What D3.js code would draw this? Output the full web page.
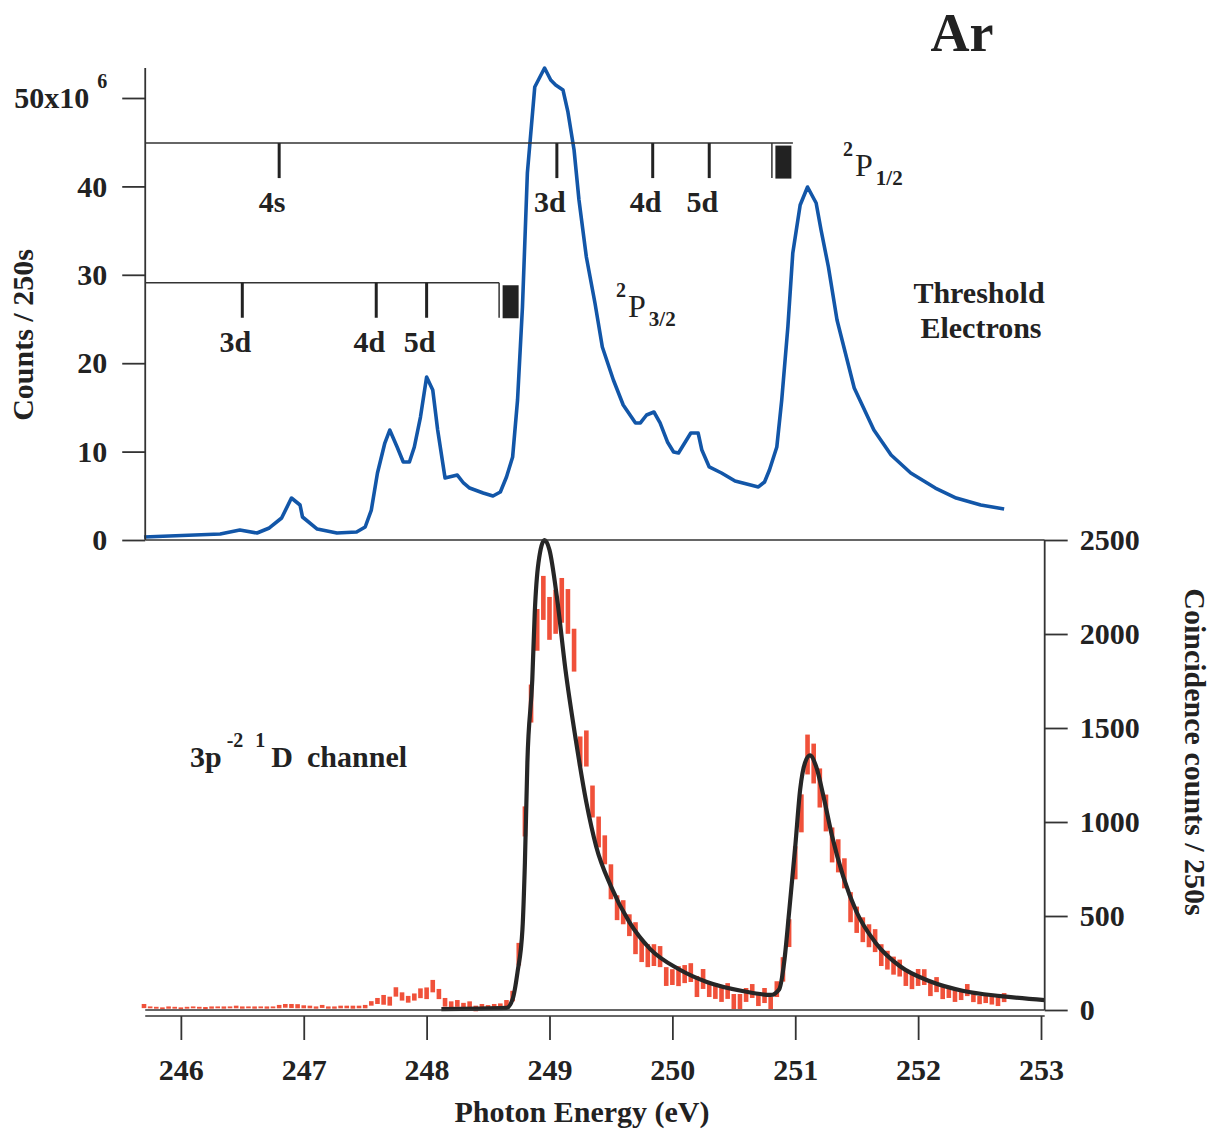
<!DOCTYPE html>
<html>
<head>
<meta charset="utf-8">
<script src="https://d3js.org/d3.v7.min.js"></script>
<style>
  body { margin:0; background:#fff; }
  svg text { font-family:"Liberation Serif","Times New Roman",serif; font-weight:bold; fill:#222; }
</style>
</head>
<body>
<svg id="chart" width="1220" height="1129"></svg>
<script>
// ── Threshold electron yield (blue), units of 10^6 counts / 250 s ───────────
const blueE = [245.70,246.32,246.48,246.62,246.72,246.82,246.90,246.97,246.99,247.11,247.27,247.43,247.50,247.55,247.60,247.66,247.70,247.76,247.81,247.86,247.90,247.95,248.00,248.05,248.09,248.15,248.25,248.30,248.35,248.46,248.54,248.60,248.65,248.70,248.74,248.78,248.82,248.88,248.96,249.01,249.05,249.11,249.15,249.20,249.24,249.30,249.37,249.43,249.52,249.60,249.70,249.74,249.79,249.85,249.90,249.96,250.01,250.05,250.15,250.21,250.24,250.30,250.40,250.51,250.70,250.75,250.79,250.85,250.89,250.94,250.98,251.04,251.10,251.17,251.21,251.27,251.34,251.48,251.64,251.78,251.94,252.14,252.31,252.51,252.70];
const blueCounts = [0.34,0.68,1.13,0.79,1.36,2.49,4.75,3.96,2.60,1.24,0.79,0.90,1.47,3.39,7.58,10.97,12.44,10.52,8.82,8.82,10.52,13.91,18.44,16.97,12.44,7.01,7.35,6.45,5.88,5.32,4.98,5.43,7.13,9.39,15.84,26.36,41.52,51.24,53.39,52.04,51.47,50.90,48.42,44.12,38.46,32.01,26.81,21.83,18.10,15.27,13.24,13.24,14.14,14.48,13.24,11.09,9.95,9.84,12.10,12.10,10.18,8.26,7.58,6.67,6.00,6.56,7.92,10.52,15.84,24.10,32.47,37.90,39.93,38.12,35.07,30.88,24.89,17.19,12.44,9.62,7.58,5.88,4.75,3.96,3.51];

// ── Coincidence counts (red error bars), bins of 0.05 eV from 245.70 eV ─────
const binStart = 245.70, binStep = 0.05;
const coincCounts = [21,14,12,9,13,12,9,12,14,12,10,13,14,13,14,16,13,14,13,14,13,14,18,22,21,20,17,16,13,19,13,13,16,16,15,16,18,35,48,54,47,96,72,57,69,89,89,127,85,41,30,35,26,30,8,16,14,16,23,35,74,297,1003,1630,2022,2192,2083,2118,2179,2120,1914,1375,1391,1109,947,852,682,544,520,451,382,316,289,292,284,178,175,180,191,199,125,165,109,101,80,101,45,45,80,101,58,77,37,111,216,409,783,1046,1359,1311,1181,1048,878,820,727,547,480,427,395,369,292,265,236,223,173,151,173,175,111,135,93,96,77,77,106,69,53,61,53,48,66];
const coincErr = [11,5,5,5,6,5,5,5,5,5,6,6,5,6,5,7,6,5,6,5,6,5,9,10,11,11,8,7,6,8,6,6,7,7,8,7,9,12,16,26,24,25,22,18,19,26,31,33,27,23,16,18,12,16,15,16,12,16,12,18,28,60,80,101,111,117,114,117,119,119,114,80,96,85,82,77,93,66,64,58,85,61,61,58,56,50,42,53,48,50,56,53,40,42,37,42,40,40,37,37,37,40,32,42,65,74,88,101,106,106,104,98,93,88,80,80,70,66,61,61,58,50,48,45,45,40,45,42,37,40,35,32,34,24,32,27,22,24,24,27,24];

// ── Fit curve (black) ────────────────────────────────────────────────────────
const fitE = [248.12,248.65,248.70,248.74,248.78,248.80,248.82,248.86,248.88,248.91,248.96,249.00,249.06,249.13,249.21,249.30,249.38,249.50,249.65,249.82,250.05,250.28,250.57,250.80,250.87,250.91,250.95,251.00,251.04,251.08,251.12,251.17,251.23,251.30,251.39,251.50,251.65,251.85,252.09,252.37,252.67,253.03];
const fitCounts = [5,11,58,202,430,786,1316,1757,2113,2378,2500,2447,2198,1810,1454,1104,870,658,467,324,218,149,101,80,111,255,520,870,1173,1316,1354,1295,1136,924,711,520,361,234,154,101,74,53];

// ── Rydberg series markers ──────────────────────────────────────────────────
const p12Labels = ["4s","3d","4d","5d"];
const p12Energies = [246.80,249.06,249.84,250.30];
const p12Limit = 250.81;
const p32Labels = ["3d","4d","5d"];
const p32Energies = [246.50,247.59,248.00];
const p32Limit = 248.59;

// ── Ticks ───────────────────────────────────────────────────────────────────
const xTicks = [246,247,248,249,250,251,252,253];
const topTicks = [0,10,20,30,40,50];
const botTicks = [0,500,1000,1500,2000,2500];

const svg = d3.select("#chart");
const AX = "#333";

const x    = d3.scaleLinear().domain([245.7, 253]).range([144, 1041]);
const yTop = d3.scaleLinear().domain([0, 50]).range([540, 98]);
const yBot = d3.scaleLinear().domain([0, 2500]).range([1010, 540]);
const xL = x(245.71), xR = x(253.03);

// red error bars
svg.append("g").selectAll("rect")
  .data(coincCounts)
  .join("rect")
  .attr("x", (d, i) => x(binStart + i * binStep) - 2.3)
  .attr("width", 4.6)
  .attr("y", (d, i) => yBot(d + coincErr[i]))
  .attr("height", (d, i) => yBot(d - coincErr[i]) - yBot(d + coincErr[i]))
  .attr("fill", "#f0513a");

// fit curve
svg.append("path")
  .datum(fitE.map((e, i) => [e, fitCounts[i]]))
  .attr("fill", "none").attr("stroke", "#262626").attr("stroke-width", 4.2)
  .attr("stroke-linejoin", "round")
  .attr("d", d3.line().x(d => x(d[0])).y(d => yBot(d[1])).curve(d3.curveMonotoneX));

// threshold electrons curve
svg.append("path")
  .datum(blueE.map((e, i) => [e, blueCounts[i]]))
  .attr("fill", "none").attr("stroke", "#1256a8").attr("stroke-width", 3.6)
  .attr("stroke-linejoin", "round")
  .attr("d", d3.line().x(d => x(d[0])).y(d => yTop(d[1])));

// frame lines
function hline(x1, x2, y, w) {
  svg.append("line").attr("x1", x1).attr("x2", x2).attr("y1", y).attr("y2", y)
    .attr("stroke", AX).attr("stroke-width", w || 1.6);
}
hline(xL, xR, yTop(0));
hline(xL, xR, yBot(0));
svg.append("line").attr("x1", xL).attr("x2", xL).attr("y1", yTop(0)).attr("y2", yTop(53.4))
  .attr("stroke", AX).attr("stroke-width", 1.8);
svg.append("line").attr("x1", xR).attr("x2", xR).attr("y1", yBot(0)).attr("y2", yBot(2500))
  .attr("stroke", AX).attr("stroke-width", 1.8);

function styleAxis(g) {
  g.select(".domain").remove();
  g.selectAll(".tick line").attr("stroke", AX).attr("stroke-width", 1.8);
  g.selectAll(".tick text").attr("font-size", 30).attr("fill", "#222");
}

// left axis
const gLeft = svg.append("g").attr("transform", `translate(${xL},0)`)
  .call(d3.axisLeft(yTop).tickValues(topTicks).tickSize(23).tickPadding(15).tickFormat(d3.format("d")))
  .call(styleAxis);
gLeft.selectAll(".tick text").filter(d => d === 50)
  .text("50x10")
  .append("tspan").attr("dx", 8).attr("dy", -20).attr("font-size", 20).text("6");

// right axis
svg.append("g").attr("transform", `translate(${xR},0)`)
  .call(d3.axisRight(yBot).tickValues(botTicks).tickSize(23).tickPadding(12).tickFormat(d3.format("d")))
  .call(styleAxis);

// bottom axis
svg.append("g").attr("transform", "translate(0,1016)")
  .call(d3.axisBottom(x).tickValues(xTicks).tickSize(24).tickPadding(19).tickFormat(d3.format("d")))
  .call(styleAxis);
hline(xL, xR, 1016);

// axis titles
svg.append("text").attr("x", 582).attr("y", 1122).attr("text-anchor", "middle")
  .attr("font-size", 30).text("Photon Energy (eV)");
svg.append("text").attr("transform", "translate(33,335) rotate(-90)")
  .attr("text-anchor", "middle").attr("font-size", 30).text("Counts / 250s");
svg.append("text").attr("transform", "translate(1185,752) rotate(90)")
  .attr("text-anchor", "middle").attr("font-size", 30).text("Coincidence counts / 250s");

// title and labels
svg.append("text").attr("x", 962).attr("y", 51).attr("text-anchor", "middle")
  .attr("font-size", 54).text("Ar");
svg.append("text").attr("x", 979).attr("y", 303).attr("text-anchor", "middle")
  .attr("font-size", 30).text("Threshold");
svg.append("text").attr("x", 981).attr("y", 338).attr("text-anchor", "middle")
  .attr("font-size", 30).text("Electrons");

const chan = svg.append("text").attr("x", 190).attr("y", 767).attr("font-size", 30);
chan.append("tspan").text("3p");
chan.append("tspan").attr("dx", 5).attr("dy", -20).attr("font-size", 20).text("-2");
chan.append("tspan").attr("dx", 12).attr("font-size", 20).text("1");
chan.append("tspan").attr("dx", 6).attr("dy", 20).text("D");
chan.append("tspan").attr("dx", 14).text("channel");

function termLabel(x0, yP, sub) {
  const t = svg.append("text").attr("x", x0).attr("y", yP - 20);
  t.append("tspan").attr("font-size", 20).text("2");
  t.append("tspan").attr("dx", 2).attr("dy", 20).attr("font-size", 32).attr("font-weight", "normal").text("P");
  t.append("tspan").attr("dx", 3).attr("dy", 9).attr("font-size", 21).text(sub);
}
termLabel(843, 176, "1/2");
termLabel(616, 317, "3/2");

// Rydberg series brackets
function series(labels, energies, limit, level, lineToRect) {
  const y0 = yTop(level);
  const g = svg.append("g");
  g.append("line").attr("x1", xL).attr("x2", lineToRect ? x(limit) + 21 : x(limit))
    .attr("y1", y0).attr("y2", y0).attr("stroke", AX).attr("stroke-width", 1.5);
  g.selectAll(".lv").data(energies).join("line")
    .attr("x1", d => x(d)).attr("x2", d => x(d))
    .attr("y1", y0).attr("y2", y0 + 35)
    .attr("stroke", "#222").attr("stroke-width", 3);
  g.selectAll(".lb").data(energies).join("text")
    .attr("x", d => x(d) - 7).attr("y", y0 + 69)
    .attr("text-anchor", "middle").attr("font-size", 30)
    .text((d, i) => labels[i]);
  g.append("line").attr("x1", x(limit)).attr("x2", x(limit))
    .attr("y1", y0).attr("y2", y0 + 35).attr("stroke", AX).attr("stroke-width", 1.5);
  g.append("rect").attr("x", x(limit) + 3.5).attr("y", y0 + 2.5)
    .attr("width", 16).attr("height", 33).attr("fill", "#222");
}
series(p12Labels, p12Energies, p12Limit, 44.9, true);
series(p32Labels, p32Energies, p32Limit, 29.1, false);
</script>
</body>
</html>
